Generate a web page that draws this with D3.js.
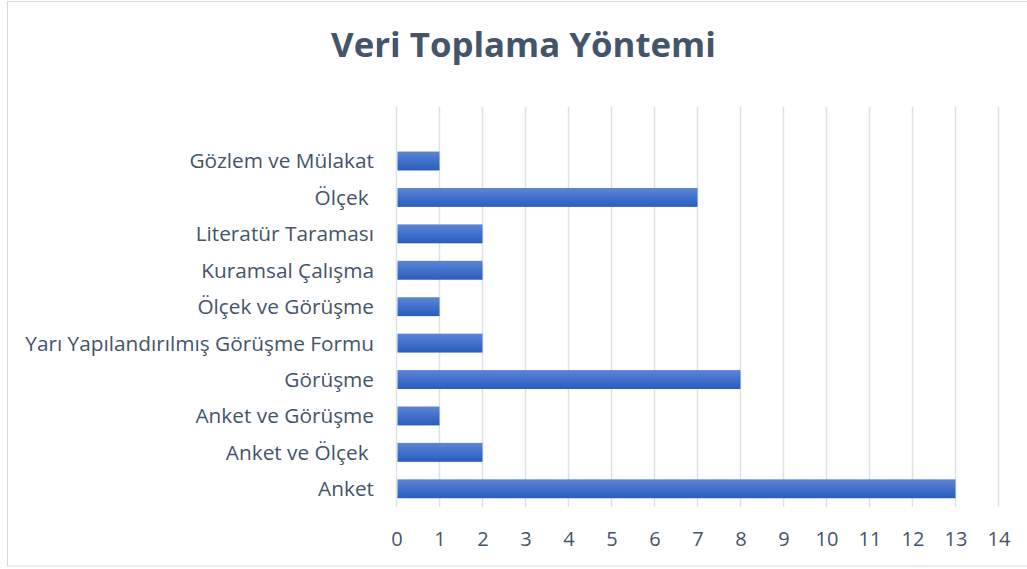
<!DOCTYPE html>
<html><head><meta charset="utf-8">
<script src="https://cdn.jsdelivr.net/npm/d3@7"></script>
<style>
html,body{margin:0;padding:0;background:#fff;}
svg{display:block;}
text{white-space:pre;}
</style></head>
<body>
<script>
const title = "Veri Toplama Yöntemi";
const categories = ["Gözlem ve Mülakat","Ölçek ","Literatür Taraması","Kuramsal Çalışma","Ölçek ve Görüşme","Yarı Yapılandırılmış Görüşme Formu","Görüşme","Anket ve Görüşme","Anket ve Ölçek ","Anket"];
const values = [1,7,2,2,1,2,8,1,2,13];
const xTicks = [0,1,2,3,4,5,6,7,8,9,10,11,12,13,14];

const W = 1027, H = 569;
const textColor = "#44546A";
const font = "'Open Sans', sans-serif";

const svg = d3.select("body").append("svg").attr("width", W).attr("height", H);

const defs = svg.append("defs");
const grad = defs.append("linearGradient").attr("id","barGrad").attr("x1",0).attr("y1",0).attr("x2",0).attr("y2",1);
grad.append("stop").attr("offset","0%").attr("stop-color","#5D86D3");
grad.append("stop").attr("offset","50%").attr("stop-color","#4170CC");
grad.append("stop").attr("offset","100%").attr("stop-color","#2C5DBD");

// chart border
svg.append("rect").attr("x",7.5).attr("y",1.5).attr("width",1030).attr("height",564.5)
  .attr("fill","#fff").attr("stroke","#D9D9D9").attr("stroke-width",1);

const x = d3.scaleLinear().domain([0,14]).range([396.5, 998.5]);
const y = d3.scaleBand().domain(categories).range([142.8, 507]).paddingInner(0.48).paddingOuter(0.24);

const gridTop = 107, gridBottom = 507;

// gridlines
svg.append("g").selectAll("line").data(xTicks).join("line")
  .attr("x1", d=>x(d)).attr("x2", d=>x(d))
  .attr("y1", gridTop).attr("y2", gridBottom)
  .attr("stroke","#DDE1E8").attr("stroke-width",1.5);

// bars
svg.append("g").selectAll("rect").data(categories).join("rect")
  .attr("x", x(0)+1)
  .attr("y", d=>y(d))
  .attr("width", (d,i)=>x(values[i])-x(0)-1)
  .attr("height", y.bandwidth())
  .attr("fill","url(#barGrad)");

// category labels
svg.append("g").selectAll("text").data(categories).join("text")
  .attr("x", 374)
  .attr("y", d=>y(d)+y.bandwidth()/2)
  .attr("dy","0.36em")
  .attr("text-anchor","end")
  .attr("font-family", font).attr("font-size", 20.8)
  .attr("fill", textColor)
  .text(d=>d);

// x axis tick labels
const xAxis = d3.axisBottom(x).tickValues(xTicks).tickSize(0).tickPadding(0);
const gx = svg.append("g").attr("transform","translate(0,546)").call(xAxis);
gx.select(".domain").remove();
gx.selectAll("text").attr("y",0).attr("dy",0)
  .attr("font-family", font).attr("font-size", 20).attr("fill", textColor);

// title
svg.append("text").attr("x", 523.5).attr("y", 57).attr("text-anchor","middle")
  .attr("font-family", font).attr("font-weight","bold").attr("font-size", 34.8)
  .attr("fill", textColor).text(title);
</script>
</body></html>
